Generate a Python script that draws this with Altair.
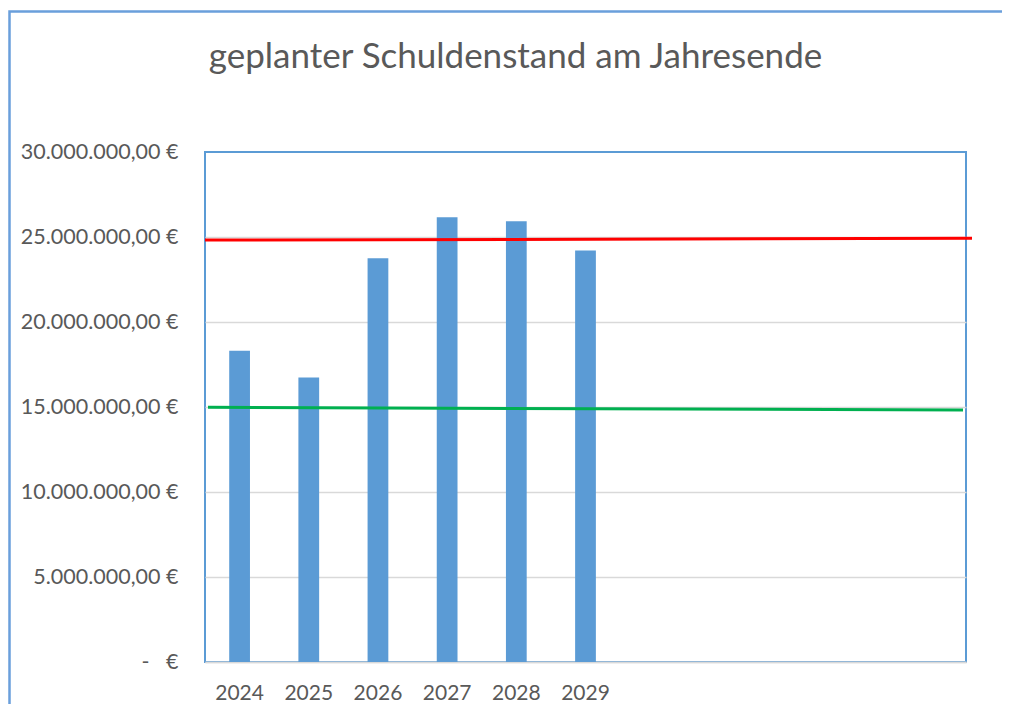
import altair as alt
import pandas as pd

title_text = "geplanter Schuldenstand am Jahresende"
years = ["2024", "2025", "2026", "2027", "2028", "2029"]
debt = [18310000, 16730000, 23750000, 26160000, 25920000, 24200000]
empty_slots = ["_1", "_2", "_3", "_4", "_5"]
x_domain = years + empty_slots
y_ticks = [0, 5000000, 10000000, 15000000, 20000000, 25000000, 30000000]

# guide lines (start value, end value)
red_line = [24820000, 24920000]
green_line = [14980000, 14820000]

FONT = "Lato"
TEXT = "#595959"
BLUE = "#5b9bd5"
FRAME = "#6a9fdb"

bars_df = pd.DataFrame({"Jahr": years, "Schuldenstand": debt})

W, H = 761, 510

x_enc = alt.X(
    "Jahr:N",
    scale=alt.Scale(domain=x_domain, paddingInner=0.7, paddingOuter=0.35),
    axis=alt.Axis(
        title=None, labelAngle=0, ticks=False, labelPadding=20,
        labelFontSize=21, labelFont=FONT, labelColor=TEXT,
        domainColor="#d9d9d9", domainWidth=1.5, grid=False,
        labelExpr="indexof(datum.label, '_') == 0 ? '' : datum.label",
    ),
)
y_scale = alt.Scale(domain=[0, 30000000], nice=False)
y_axis = alt.Axis(
    title=None, values=y_ticks, format=",.2f", ticks=False, domain=False,
    labelPadding=27, labelFontSize=21.5, labelFont=FONT, labelColor=TEXT,
    gridColor={"condition": {"test": "datum.value >= 30000000", "value": "transparent"},
               "value": "#d9d9d9"},
    gridWidth=1.5,
    labelExpr="datum.value == 0 ? '-\u00a0\u00a0\u00a0€' : datum.label + '\u00a0€'",
)

frame = alt.Chart(alt.Data(values=[{}])).mark_rect(
    fill="transparent", stroke=FRAME, strokeWidth=2.5
).encode(
    x=alt.value(-195.5), x2=alt.value(W + 60),
    y=alt.value(-140.5), y2=alt.value(H + 60),
)

title = alt.Chart(alt.Data(values=[{"t": title_text}])).mark_text(
    font=FONT, fontSize=35, color=TEXT, align="center", baseline="alphabetic"
).encode(
    text="t:N", x=alt.value(W / 2 - 70), y=alt.value(-84),
)

bars = alt.Chart(bars_df).mark_bar(color=BLUE).encode(
    x=x_enc,
    y=alt.Y("Schuldenstand:Q", scale=y_scale, axis=y_axis),
)

red = alt.Chart(alt.Data(values=[{"a": red_line[0], "b": red_line[1]}])).mark_rule(
    color="#ff0000", strokeWidth=3
).encode(
    x=alt.value(0), x2=alt.value(W + 6),
    y=alt.Y("a:Q", scale=y_scale), y2="b:Q",
)

green = alt.Chart(alt.Data(values=[{"a": green_line[0], "b": green_line[1]}])).mark_rule(
    color="#00b050", strokeWidth=3
).encode(
    x=alt.value(3), x2=alt.value(W - 3),
    y=alt.Y("a:Q", scale=y_scale), y2="b:Q",
)

chart = alt.layer(frame, title, bars, red, green).properties(
    width=W, height=H,
    autosize=alt.AutoSizeParams(type="none"),
    padding={"left": 197, "top": 144, "right": 36, "bottom": 42},
).configure(
    locale={"number": {"decimal": ",", "thousands": ".", "grouping": [3],
                       "currency": ["", " €"]}},
).configure_view(
    stroke=BLUE, strokeWidth=2,
)

chart.save("out.html", embed_options={"renderer": "svg", "actions": False})
